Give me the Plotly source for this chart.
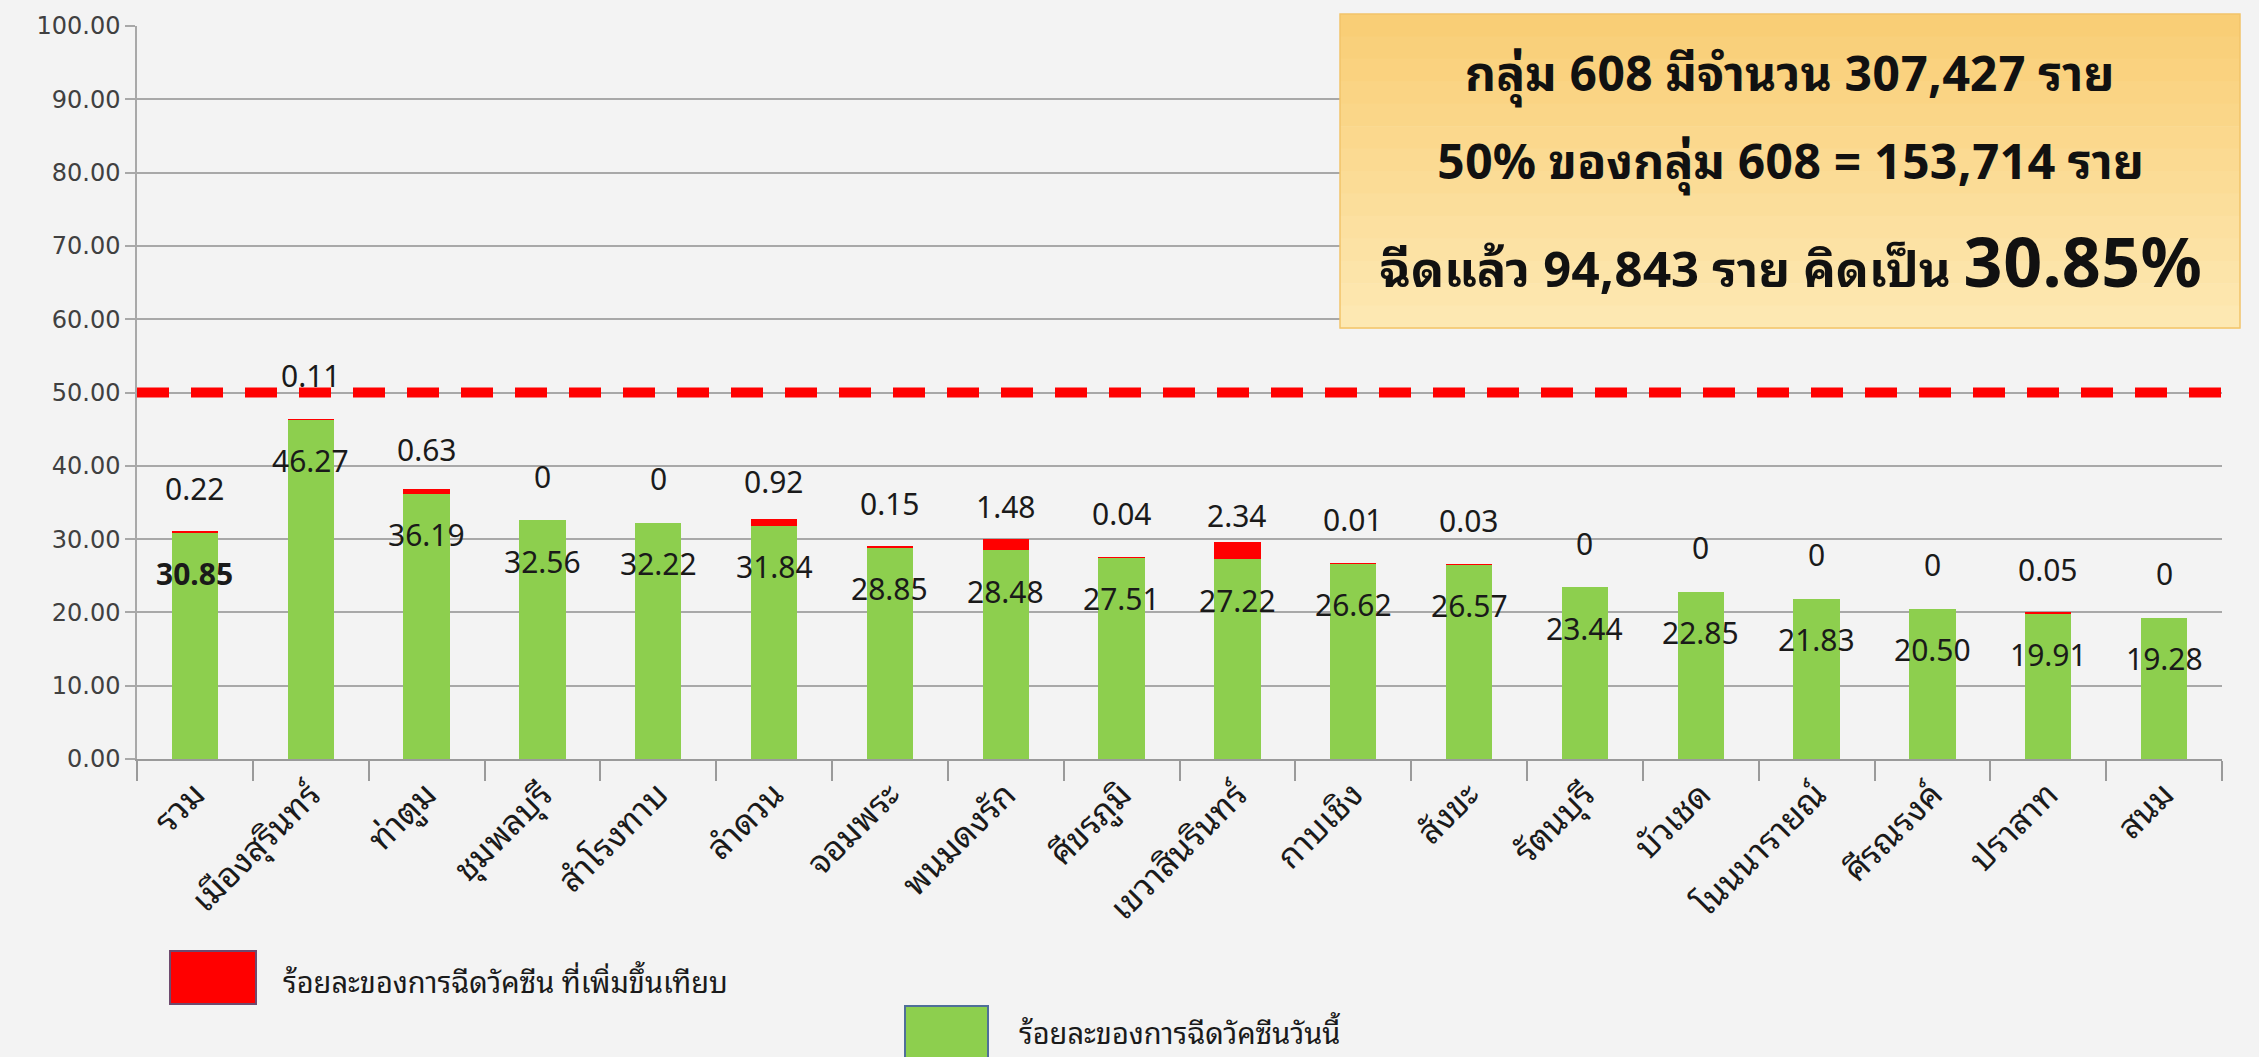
import plotly.graph_objects as go

# ---------------- data ----------------
categories = ["รวม", "เมืองสุรินทร์", "ท่าตูม", "ชุมพลบุรี", "สำโรงทาบ", "ลำดวน",
              "จอมพระ", "พนมดงรัก", "ศีขรภูมิ", "เขวาสินรินทร์", "กาบเชิง", "สังขะ",
              "รัตนบุรี", "บัวเชด", "โนนนารายณ์", "ศีรณรงค์", "ปราสาท", "สนม"]
today_pct = [30.85, 46.27, 36.19, 32.56, 32.22, 31.84, 28.85, 28.48, 27.51,
             27.22, 26.62, 26.57, 23.44, 22.85, 21.83, 20.50, 19.91, 19.28]
increase_pct = [0.22, 0.11, 0.63, 0, 0, 0.92, 0.15, 1.48, 0.04,
                2.34, 0.01, 0.03, 0, 0, 0, 0, 0.05, 0]
target_pct = 50
y_tick_vals = [0, 10, 20, 30, 40, 50, 60, 70, 80, 90, 100]
y_tick_text = ["0.00", "10.00", "20.00", "30.00", "40.00", "50.00",
               "60.00", "70.00", "80.00", "90.00", "100.00"]
name_today = "ร้อยละของการฉีดวัคซีนวันนี้"
name_increase = "ร้อยละของการฉีดวัคซีน ที่เพิ่มขึ้นเทียบ"
box_lines = ["กลุ่ม 608 มีจำนวน 307,427 ราย",
             "50% ของกลุ่ม 608 = 153,714 ราย",
             "ฉีดแล้ว 94,843 ราย คิดเป็น "]
box_highlight = "30.85%"

# ---------------- layout constants (pixels) ----------------
W, H = 2259, 1057
ML, MR, MT, MB = 137, 37, 26, 298
PW, PH = W - ML - MR, H - MT - MB


def px_x(px):
    return (px - ML) / PW


def px_y(py):
    return (H - MB - py) / PH


THAI = "Noto Sans Thai Looped, Tahoma, Leelawadee UI, Noto Sans Thai, Loma, Garuda, sans-serif"
LABEL = "Noto Sans, Noto Sans Thai, sans-serif"
GREEN = "#8DCF4E"
RED = "#FF0000"
TXT = "#1a1a1a"

fig = go.Figure()
fig.add_bar(x=categories, y=today_pct, marker=dict(color=GREEN, line=dict(width=0)),
            name=name_today, showlegend=False)
fig.add_bar(x=categories, y=increase_pct, marker=dict(color=RED, line=dict(width=0)),
            name=name_increase, showlegend=False)

# target line
fig.add_hline(y=target_pct, line=dict(color=RED, width=10, dash="32px,22px"))

# data labels
for i, (c, g, r) in enumerate(zip(categories, today_pct, increase_pct)):
    fig.add_annotation(x=c, y=g, text=(f"<b>{g:.2f}</b>" if i == 0 else f"{g:.2f}"),
                       showarrow=False, yshift=-41, yanchor="middle",
                       font=dict(family=LABEL, size=30, color=TXT))
    rtxt = "0" if r == 0 else f"{r:g}"
    fig.add_annotation(x=c, y=g, text=rtxt, showarrow=False, yshift=44, yanchor="middle",
                       font=dict(family=LABEL, size=30, color=TXT))

shapes = []
# info box shadow + gradient
bx0, bx1, by0, by1 = 1340, 2240, 14, 328
shapes.append(dict(type="rect", xref="paper", yref="paper",
                   x0=px_x(bx0 + 5), x1=px_x(bx1 + 6), y0=px_y(by1 + 9), y1=px_y(by0 + 5),
                   fillcolor="rgba(120,120,120,0.25)", line=dict(width=0), layer="above"))
top_c = (249, 206, 118)
bot_c = (253, 232, 178)
n = 14
for k in range(n):
    t = k / (n - 1)
    col = tuple(int(round(top_c[j] + (bot_c[j] - top_c[j]) * t)) for j in range(3))
    ya = by0 + (by1 - by0) * k / n
    yb = by0 + (by1 - by0) * (k + 1) / n
    shapes.append(dict(type="rect", xref="paper", yref="paper",
                       x0=px_x(bx0), x1=px_x(bx1), y0=px_y(yb + 0.6), y1=px_y(ya),
                       fillcolor="rgb(%d,%d,%d)" % col, line=dict(width=0), layer="above"))
shapes.append(dict(type="rect", xref="paper", yref="paper",
                   x0=px_x(bx0), x1=px_x(bx1), y0=px_y(by1), y1=px_y(by0),
                   fillcolor="rgba(0,0,0,0)", line=dict(color="#F2C46A", width=1.5), layer="above"))

# legend markers
shapes.append(dict(type="rect", xref="paper", yref="paper",
                   x0=px_x(170), x1=px_x(256), y0=px_y(1004), y1=px_y(951),
                   fillcolor=RED, line=dict(color="#6E4A6E", width=2), layer="above"))
shapes.append(dict(type="rect", xref="paper", yref="paper",
                   x0=px_x(905), x1=px_x(988), y0=px_y(1075), y1=px_y(1006),
                   fillcolor=GREEN, line=dict(color="#4F6F99", width=2), layer="above"))

# box text
cx = px_x((bx0 + bx1) / 2)
for txt, py in zip(box_lines[:2], [69, 158]):
    fig.add_annotation(xref="paper", yref="paper", x=cx, y=px_y(py), text=f"<b>{txt}</b>",
                       showarrow=False, xanchor="center", yanchor="middle",
                       font=dict(family=THAI, size=48, color="#111111"))
fig.add_annotation(xref="paper", yref="paper", x=cx, y=px_y(256),
                   text=f"<b>{box_lines[2]}<span style='font-size:68px'>{box_highlight}</span></b>",
                   showarrow=False, xanchor="center", yanchor="middle",
                   font=dict(family=THAI, size=49, color="#111111"))

# legend text
fig.add_annotation(xref="paper", yref="paper", x=px_x(281), y=px_y(980),
                   xanchor="left", yanchor="middle",
                   text=name_increase, showarrow=False,
                   font=dict(family=THAI, size=29, color=TXT))
fig.add_annotation(xref="paper", yref="paper", x=px_x(1017), y=px_y(1031),
                   xanchor="left", yanchor="middle",
                   text=name_today, showarrow=False,
                   font=dict(family=THAI, size=29, color=TXT))

fig.update_layout(
    width=W, height=H,
    margin=dict(l=ML, r=MR, t=MT, b=MB, pad=0),
    paper_bgcolor="#F3F3F3", plot_bgcolor="rgba(0,0,0,0)",
    barmode="stack", bargap=0.6,
    showlegend=False,
    shapes=shapes,
    xaxis=dict(type="category", tickangle=-45, showgrid=False,
               showline=True, linecolor="#9A9A9A", linewidth=2,
               ticks="outside", tickson="boundaries", ticklen=20, tickcolor="#9A9A9A",
               tickwidth=1.5,
               tickfont=dict(family=THAI, size=34, color=TXT)),
    yaxis=dict(range=[0, 100], tickvals=y_tick_vals, ticktext=y_tick_text,
               showgrid=True, gridcolor="#A8A8A8", gridwidth=1.5,
               showline=True, linecolor="#A8A8A8", linewidth=1.5,
               ticks="outside", ticklen=10, tickcolor="#A8A8A8", tickwidth=1.5,
               zeroline=False,
               tickfont=dict(family="DejaVu Sans, Verdana, sans-serif", size=24, color="#404040")),
)

fig.write_html("out.html",
               config={"displayModeBar": False},
               post_script="document.body.style.margin='0';document.body.style.background='#F3F3F3';")
